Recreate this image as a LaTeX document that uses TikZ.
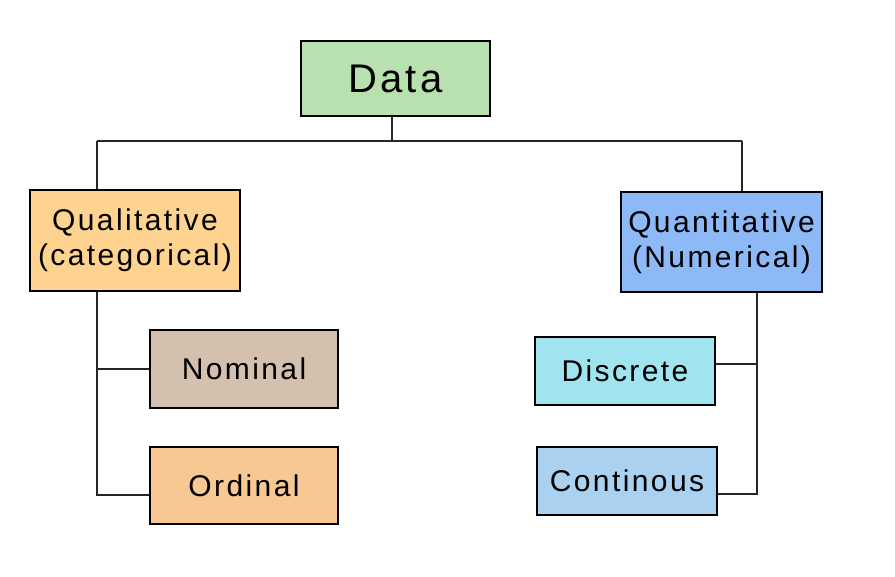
\documentclass[tikz,border=0pt]{standalone}
\usepackage{fontspec}
\setmainfont{Liberation Sans}
\newfontfamily\handfont[LetterSpace=8]{Liberation Sans}
\usetikzlibrary{positioning, calc}
\definecolor{cDATA}{HTML}{B9E1AF}
\definecolor{cQUAL}{HTML}{FDD38F}
\definecolor{cQUANT}{HTML}{8DB9F7}
\definecolor{cNOM}{HTML}{D3C0AE}
\definecolor{cORD}{HTML}{F7C893}
\definecolor{cDISC}{HTML}{A0E4EF}
\definecolor{cCONT}{HTML}{AAD1EF}
\tikzset{
  catbox/.style={
    draw=black, line width=2pt,
    fill=#1,
    inner sep=0pt,
    align=center,
    text=black,
    font=\handfont\fontsize{30}{35}\selectfont
  },
  link/.style={
    line width=2pt,
    draw=black!85
  }
}

\begin{document}
\begin{tikzpicture}[x=1pt, y=-1pt]
  \useasboundingbox (0,0) rectangle (895,577);

  \node[catbox=cDATA, minimum width=189pt, minimum height=75pt,
        font=\handfont\fontsize{40}{46}\selectfont] (data) at (395.5,78.5) {Data};
  \node[catbox=cQUAL, minimum width=210pt, minimum height=101pt] (qual) at (135,240.5)
    {Qualitative\\(categorical)};
  \node[catbox=cQUANT, minimum width=201pt, minimum height=100pt] (quant) at (721.5,242)
    {Quantitative\\(Numerical)};
  \node[catbox=cNOM, minimum width=188pt, minimum height=78pt] (nominal) at (244,369) {Nominal};
  \node[catbox=cORD, minimum width=188pt, minimum height=77pt] (ordinal) at (244,485.5) {Ordinal};
  \node[catbox=cDISC, minimum width=180pt, minimum height=68pt] (discrete) at (625,371) {Discrete};
  \node[catbox=cCONT, minimum width=180pt, minimum height=68pt] (continous) at (627,481) {Continous};

  % tree connectors
  \coordinate (hubL) at (97,141);
  \coordinate (hubM) at (392,141);
  \coordinate (hubR) at (742,141);
  \coordinate (trunkL) at (97,495);
  \coordinate (trunkR) at (757,494);
  \coordinate (branchD) at (757,364);

  \draw[link] (hubM |- data.south) -- (hubM);
  \draw[link] (hubL) -- (hubR);
  \draw[link] (hubL) -- (hubL |- qual.north);
  \draw[link] (hubR) -- (hubR |- quant.north);

  \draw[link] (trunkL |- qual.south) -- (trunkL) -- (trunkL -| ordinal.west);
  \draw[link] (trunkL |- nominal.west) -- (nominal.west);

  \draw[link] (trunkR |- quant.south) -- (trunkR) -- (trunkR -| continous.east);
  \draw[link] (branchD) -- (branchD -| discrete.east);
\end{tikzpicture}
\end{document}
